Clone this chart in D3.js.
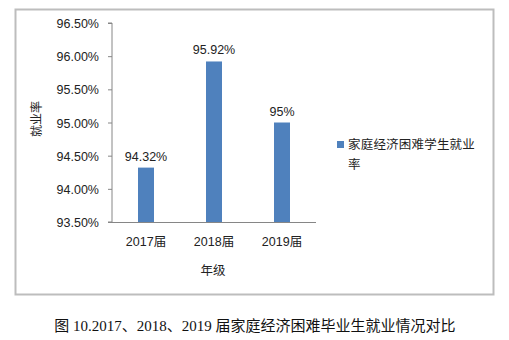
<!DOCTYPE html>
<html>
<head>
<meta charset="utf-8">
<script src="https://cdn.jsdelivr.net/npm/d3@7/dist/d3.min.js"></script>
<style>
  html, body { margin: 0; padding: 0; background: #fff; }
  svg { display: block; }
  .sans { font-family: Arial, "Liberation Sans", "Noto Sans CJK SC", sans-serif; }
</style>
</head>
<body>
<svg id="chart" width="509" height="340"></svg>
<script>
// Employment rate of students from financially disadvantaged families, by graduating class
const categories = ["2017届", "2018届", "2019届"];
const rates = [94.32, 95.92, 95.00];
const rateLabels = ["94.32%", "95.92%", "95%"];
const yTicks = [93.5, 94.0, 94.5, 95.0, 95.5, 96.0, 96.5];
const seriesName = ["家庭经济困难学生就业", "率"];
const yTitle = "就业率";
const xTitle = "年级";
const caption = "图 10.2017、2018、2019 届家庭经济困难毕业生就业情况对比";

const svg = d3.select("#chart");
const barColor = "#4f81bd";
const axisColor = "#868686";
const textColor = "#222";

// Chart frame
svg.append("rect")
  .attr("x", 15.5).attr("y", 9.5)
  .attr("width", 478).attr("height", 285)
  .attr("fill", "#fff")
  .attr("stroke", "#bdbdbd")
  .attr("stroke-width", 2);

const plot = { left: 112, right: 316, top: 23, bottom: 222 };

const y = d3.scaleLinear()
  .domain([93.5, 96.5])
  .range([plot.bottom, plot.top]);

const pInner = 1 - 16 / 68;
const x = d3.scaleBand()
  .domain(categories)
  .range([plot.left, plot.right])
  .paddingInner(pInner)
  .paddingOuter(pInner / 2);

// Y axis
const yAxis = d3.axisLeft(y)
  .tickValues(yTicks)
  .tickSize(4)
  .tickPadding(9)
  .tickFormat(d => d3.format(".2f")(d) + "%");

const gy = svg.append("g")
  .attr("class", "sans")
  .attr("transform", `translate(${plot.left},0)`)
  .call(yAxis);
gy.select(".domain").attr("stroke", axisColor).attr("d", `M-4,${plot.top}H0V${plot.bottom}H-4`);
gy.selectAll(".tick line").attr("stroke", axisColor);
gy.selectAll(".tick text")
  .attr("fill", textColor)
  .style("font-size", "12.5px")
  .attr("dy", "0.36em");

// Bars
svg.append("g")
  .selectAll("rect")
  .data(rates)
  .join("rect")
  .attr("x", (d, i) => x(categories[i]))
  .attr("y", d => y(d))
  .attr("width", x.bandwidth())
  .attr("height", d => y(93.5) - y(d))
  .attr("fill", barColor);

// X axis
const xAxis = d3.axisBottom(x).tickSize(0).tickPadding(15);
const gx = svg.append("g")
  .attr("class", "sans")
  .attr("transform", `translate(0,${plot.bottom})`)
  .call(xAxis);
gx.select(".domain").attr("stroke", axisColor).attr("d", `M${plot.left},0.5H${plot.right}`);
gx.selectAll(".tick text")
  .attr("fill", textColor)
  .style("font-size", "12.5px");

// Value labels
svg.append("g")
  .attr("class", "sans")
  .selectAll("text")
  .data(rates)
  .join("text")
  .attr("x", (d, i) => x(categories[i]) + x.bandwidth() / 2)
  .attr("y", d => y(d) - 7)
  .attr("text-anchor", "middle")
  .attr("fill", textColor)
  .style("font-size", "12.5px")
  .text((d, i) => rateLabels[i]);

// Axis titles
svg.append("text")
  .attr("class", "sans")
  .attr("transform", "translate(41,119) rotate(-90)")
  .attr("text-anchor", "middle")
  .attr("fill", textColor)
  .style("font-size", "12px")
  .text(yTitle);

svg.append("text")
  .attr("class", "sans")
  .attr("x", 213).attr("y", 275)
  .attr("text-anchor", "middle")
  .attr("fill", textColor)
  .style("font-size", "12.5px")
  .text(xTitle);

// Legend
const legend = svg.append("g").attr("class", "sans");
legend.append("rect")
  .attr("x", 337).attr("y", 141)
  .attr("width", 7).attr("height", 7)
  .attr("fill", barColor);
legend.selectAll("text")
  .data(seriesName)
  .join("text")
  .attr("x", 348)
  .attr("y", (d, i) => 149 + i * 20)
  .attr("fill", textColor)
  .style("font-size", "12.5px")
  .style("letter-spacing", "0.2px")
  .text(d => d);

// Caption
svg.append("text")
  .attr("x", 255).attr("y", 331)
  .attr("text-anchor", "middle")
  .attr("fill", "#111")
  .style("font-family", "\"Liberation Serif\", \"Noto Sans CJK SC\", serif")
  .style("font-size", "15px")
  .text(caption);
</script>
</body>
</html>
